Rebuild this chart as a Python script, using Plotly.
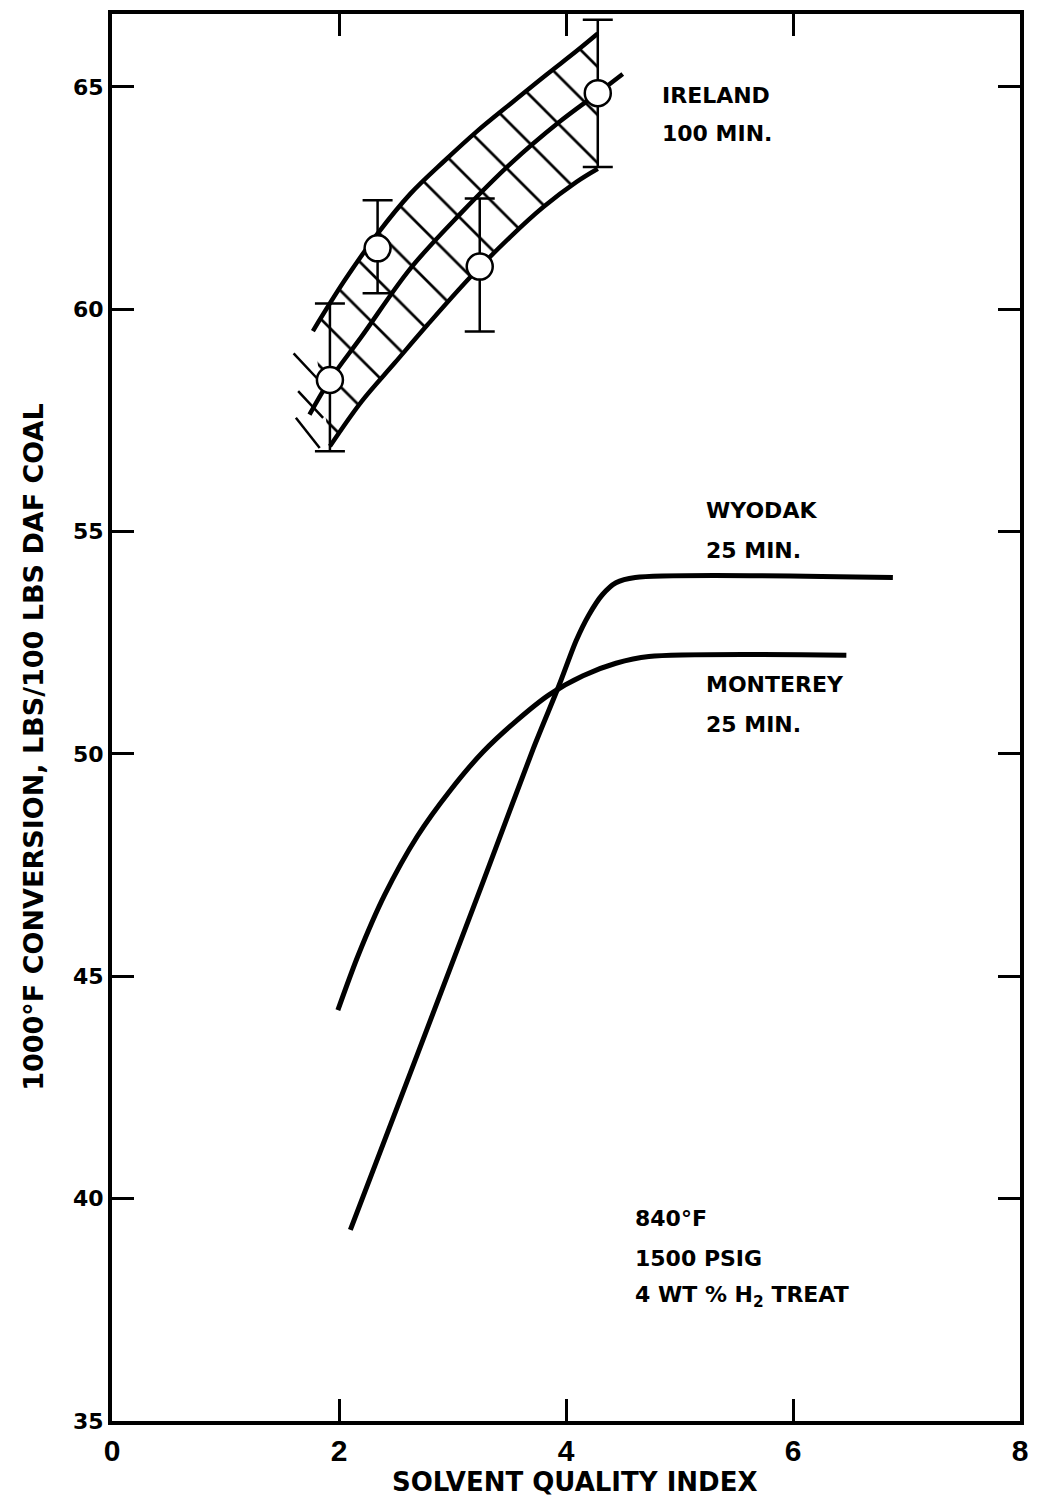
import plotly.graph_objects as go

# ---------------- data ----------------
# Wyodak, 25 min
wyodak_x = [2.10, 2.69, 3.27, 3.71, 3.94, 4.09, 4.20, 4.32, 4.44, 4.61, 6.88]
wyodak_y = [39.30, 43.24, 47.13, 50.11, 51.55, 52.55, 53.12, 53.58, 53.85, 53.97, 53.97]

# Monterey, 25 min
monterey_x = [1.99, 2.17, 2.40, 2.69, 2.98, 3.27, 3.56, 3.85, 4.15, 4.44, 4.73, 6.47]
monterey_y = [44.24, 45.48, 46.82, 48.15, 49.18, 50.05, 50.74, 51.33, 51.76, 52.04, 52.19, 52.22]

# Ireland, 100 min: measured points with error bars
ireland_x = [1.92, 2.34, 3.24, 4.28]
ireland_y = [58.41, 61.37, 60.96, 64.86]
ireland_hi = [60.13, 62.45, 62.49, 66.51]
ireland_lo = [56.81, 60.36, 59.50, 63.20]

# Ireland band: upper, lower and middle curves
band_up_x = [1.77, 2.05, 2.34, 2.63, 2.93, 3.21, 3.52, 3.83, 4.09, 4.28]
band_up_y = [59.51, 60.65, 61.70, 62.60, 63.34, 63.99, 64.64, 65.28, 65.80, 66.20]
band_lo_x = [1.92, 2.20, 2.49, 2.78, 3.16, 3.51, 3.80, 4.09, 4.28]
band_lo_y = [56.92, 57.93, 58.79, 59.65, 60.73, 61.63, 62.30, 62.86, 63.16]
band_mid_x = [1.74, 1.92, 2.20, 2.63, 3.07, 3.51, 3.94, 4.28, 4.50]
band_mid_y = [57.63, 58.41, 59.39, 60.92, 62.15, 63.27, 64.21, 64.86, 65.29]

# short hatch strokes sticking out at the lower-left end of the band
stub_x0 = [1.60, 1.64, 1.62]
stub_y0 = [59.01, 58.16, 57.56]
stub_x1 = [1.82, 1.86, 1.83]
stub_y1 = [58.41, 57.56, 56.88]

x_ticks = [0, 2, 4, 6, 8]
y_ticks = [35, 40, 45, 50, 55, 60, 65]

# ---------------- figure ----------------
BLACK = "black"
LBL = "DejaVu Sans"

fig = go.Figure()

# hatched band
fig.add_trace(go.Scatter(
    x=band_up_x + band_lo_x[::-1], y=band_up_y + band_lo_y[::-1],
    mode="lines", fill="toself", line=dict(width=0, color="rgba(0,0,0,0)"),
    fillcolor="white",
    fillpattern=dict(shape="\\", size=34, solidity=0.08, fgcolor=BLACK, fgopacity=1,
                     bgcolor="white"),
    hoverinfo="skip", showlegend=False))

for sx0, sy0, sx1, sy1 in zip(stub_x0, stub_y0, stub_x1, stub_y1):
    fig.add_trace(go.Scatter(x=[sx0, sx1], y=[sy0, sy1], mode="lines",
                             line=dict(color=BLACK, width=2.5), showlegend=False, hoverinfo="skip"))

for bx, by in [(band_up_x, band_up_y), (band_lo_x, band_lo_y), (band_mid_x, band_mid_y)]:
    fig.add_trace(go.Scatter(x=bx, y=by, mode="lines", line=dict(color=BLACK, width=4.5, shape="spline"),
                             showlegend=False))

# Wyodak & Monterey
fig.add_trace(go.Scatter(x=wyodak_x, y=wyodak_y, mode="lines", name="WYODAK",
                         line=dict(color=BLACK, width=5, shape="spline", smoothing=0.8), showlegend=False))
fig.add_trace(go.Scatter(x=monterey_x, y=monterey_y, mode="lines", name="MONTEREY",
                         line=dict(color=BLACK, width=5, shape="spline", smoothing=0.8), showlegend=False))

# Ireland points with error bars
fig.add_trace(go.Scatter(
    x=ireland_x, y=ireland_y, mode="markers", name="IRELAND",
    marker=dict(symbol="circle", size=26, color="white", line=dict(color=BLACK, width=2.5)),
    error_y=dict(type="data", symmetric=False,
                 array=[h - v for h, v in zip(ireland_hi, ireland_y)],
                 arrayminus=[v - l for l, v in zip(ireland_lo, ireland_y)],
                 color=BLACK, thickness=2.5, width=15),
    showlegend=False))

# text annotations
def label(txt, x, y):
    fig.add_annotation(x=x, y=y, xref="x", yref="y", text=txt, showarrow=False,
                       xanchor="left", yanchor="middle",
                       font=dict(family=LBL, size=22, color=BLACK, weight="bold"))

label("IRELAND", 4.83, 64.80)
label("100 MIN.", 4.83, 63.95)
label("WYODAK", 5.22, 55.47)
label("25 MIN.", 5.22, 54.57)
label("MONTEREY", 5.22, 51.57)
label("25 MIN.", 5.22, 50.67)
label("840°F", 4.59, 39.55)
label("1500 PSIG", 4.59, 38.65)
label("4 WT % H<sub>2</sub> TREAT", 4.59, 37.80)

# axis titles (placed as annotations to match the reference position)
fig.add_annotation(x=-0.0873, y=0.479, xref="paper", yref="paper",
                   text="1000°F CONVERSION, LBS/100 LBS DAF COAL", textangle=-90,
                   showarrow=False, xanchor="center", yanchor="middle",
                   font=dict(family=LBL, size=27, color=BLACK, weight="bold"))
fig.add_annotation(x=0.509, y=-0.0432, xref="paper", yref="paper",
                   text="SOLVENT QUALITY INDEX", showarrow=False,
                   xanchor="center", yanchor="middle",
                   font=dict(family=LBL, size=26, color=BLACK, weight="bold"))

axis_common = dict(showline=True, linecolor=BLACK, linewidth=4, mirror="ticks",
                   ticks="inside", ticklen=22, tickwidth=3, tickcolor=BLACK,
                   showgrid=False, zeroline=False)

fig.update_xaxes(range=[0, 8], tickvals=x_ticks, ticktext=[str(v) for v in x_ticks],
                 tickfont=dict(family="Liberation Sans Narrow, Liberation Sans, sans-serif",
                               size=30, color=BLACK, weight="bold"),
                 **axis_common)
fig.update_yaxes(range=[35, 66.64], tickvals=y_ticks, ticktext=[str(v) for v in y_ticks],
                 tickfont=dict(family=LBL, size=22, color=BLACK, weight="bold"),
                 **axis_common)

fig.update_layout(width=1038, height=1497, margin=dict(l=112, r=10, t=10, b=76),
                  plot_bgcolor="white", paper_bgcolor="white", showlegend=False)

fig.write_html("out.html")
